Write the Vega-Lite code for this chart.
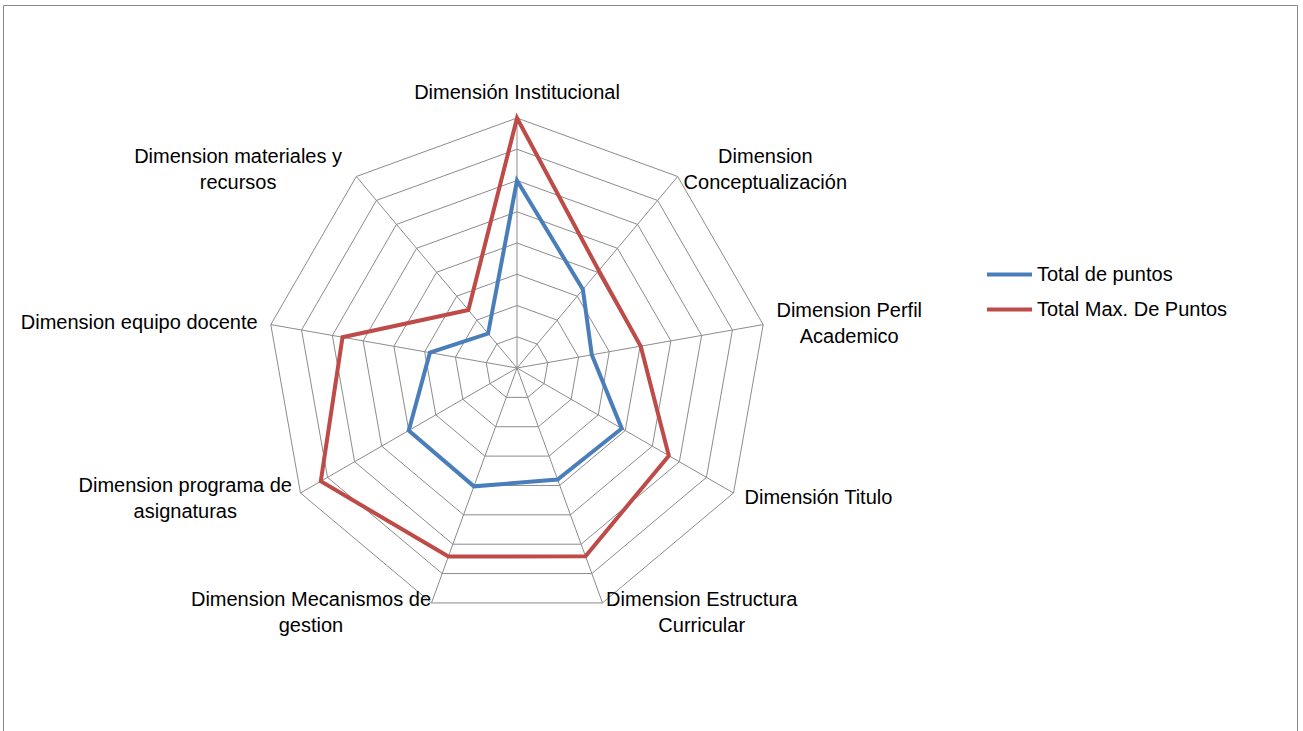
{
  "$schema": "https://vega.github.io/schema/vega-lite/v6.json",
  "width": 1294,
  "height": 726,
  "autosize": {"type": "none"},
  "padding": {"left": 3, "top": 5, "right": 6, "bottom": 0},
  "background": "#ffffff",
  "config": {
    "view": {"stroke": "#878787", "strokeWidth": 1},
    "font": "Liberation Sans"
  },
  "datasets": {
    "dims": [
      {"k": 0, "label": "Dimensión Institucional", "puntos": 6, "maximo": 8},
      {"k": 1, "label": "Dimension\nConceptualización", "puntos": 3.28, "maximo": 4.07},
      {"k": 2, "label": "Dimension Perfil\nAcademico", "puntos": 2.43, "maximo": 4.02},
      {"k": 3, "label": "Dimensión Titulo", "puntos": 3.87, "maximo": 5.61},
      {"k": 4, "label": "Dimension Estructura\nCurricular", "puntos": 3.8, "maximo": 6.41},
      {"k": 5, "label": "Dimension Mecanismos de\ngestion", "puntos": 4.03, "maximo": 6.42},
      {"k": 6, "label": "Dimension programa de\nasignaturas", "puntos": 4.0, "maximo": 7.25},
      {"k": 7, "label": "Dimension equipo docente", "puntos": 2.83, "maximo": 5.67},
      {"k": 8, "label": "Dimension materiales y\nrecursos", "puntos": 1.44, "maximo": 2.42}
    ],
    "rings": [
      {"level": 1, "k": [0, 1, 2, 3, 4, 5, 6, 7, 8]},
      {"level": 2, "k": [0, 1, 2, 3, 4, 5, 6, 7, 8]},
      {"level": 3, "k": [0, 1, 2, 3, 4, 5, 6, 7, 8]},
      {"level": 4, "k": [0, 1, 2, 3, 4, 5, 6, 7, 8]},
      {"level": 5, "k": [0, 1, 2, 3, 4, 5, 6, 7, 8]},
      {"level": 6, "k": [0, 1, 2, 3, 4, 5, 6, 7, 8]},
      {"level": 7, "k": [0, 1, 2, 3, 4, 5, 6, 7, 8]},
      {"level": 8, "k": [0, 1, 2, 3, 4, 5, 6, 7, 8]}
    ]
  },
  "layer": [
    {
      "data": {"name": "rings"},
      "transform": [
        {"flatten": ["k"]},
        {"calculate": "datum.level*sin(datum.k*2*PI/9)", "as": "x"},
        {"calculate": "datum.level*cos(datum.k*2*PI/9)", "as": "y"}
      ],
      "mark": {"type": "line", "interpolate": "linear-closed", "color": "#8c8c8c", "strokeWidth": 1},
      "encoding": {
        "x": {"field": "x", "type": "quantitative", "scale": {"domain": [-16.448, 24.96], "nice": false, "zero": false}, "axis": null},
        "y": {"field": "y", "type": "quantitative", "scale": {"domain": [-11.616, 11.616], "nice": false, "zero": false}, "axis": null},
        "detail": {"field": "level", "type": "nominal"},
        "order": {"field": "k", "type": "quantitative"}
      }
    },
    {
      "data": {"name": "dims"},
      "transform": [
        {"calculate": "0", "as": "o"},
        {"calculate": "8*sin(datum.k*2*PI/9)", "as": "sx"},
        {"calculate": "8*cos(datum.k*2*PI/9)", "as": "sy"}
      ],
      "mark": {"type": "rule", "color": "#8c8c8c", "strokeWidth": 1},
      "encoding": {
        "x": {"field": "o", "type": "quantitative", "scale": {"domain": [-16.448, 24.96], "nice": false, "zero": false}, "axis": null},
        "y": {"field": "o", "type": "quantitative", "scale": {"domain": [-11.616, 11.616], "nice": false, "zero": false}, "axis": null},
        "x2": {"field": "sx"},
        "y2": {"field": "sy"}
      }
    },
    {
      "data": {"name": "dims"},
      "transform": [
        {"fold": ["puntos", "maximo"], "as": ["serie", "v"]},
        {"calculate": "datum.v*sin(datum.k*2*PI/9)", "as": "x"},
        {"calculate": "datum.v*cos(datum.k*2*PI/9)", "as": "y"}
      ],
      "mark": {"type": "line", "interpolate": "linear-closed", "strokeWidth": 4},
      "encoding": {
        "x": {"field": "x", "type": "quantitative", "scale": {"domain": [-16.448, 24.96], "nice": false, "zero": false}, "axis": null},
        "y": {"field": "y", "type": "quantitative", "scale": {"domain": [-11.616, 11.616], "nice": false, "zero": false}, "axis": null},
        "order": {"field": "k", "type": "quantitative"},
        "color": {
          "field": "serie",
          "type": "nominal",
          "scale": {"domain": ["puntos", "maximo"], "range": ["#4A7EBB", "#BE4B48"]},
          "legend": {
            "orient": "none",
            "legendX": 982,
            "legendY": 245,
            "title": null,
            "symbolType": "stroke",
            "symbolSize": 2025,
            "symbolStrokeWidth": 4,
            "labelFont": "Liberation Sans",
            "labelFontSize": 20,
            "labelColor": "#000000",
            "labelOffset": 3,
            "labelLimit": 400,
            "rowPadding": -2,
            "padding": 0,
            "labelExpr": "datum.label == 'puntos' ? 'Total de puntos' : 'Total Max. De Puntos'"
          }
        }
      }
    },
    {
      "data": {"name": "dims"},
      "transform": [
        {"calculate": "datum.k == 0 ? 8.8 : 8.3", "as": "R"},
        {"calculate": "indexof(datum.label, '\\n')", "as": "nl"},
        {"calculate": "datum.nl < 0 ? length(datum.label) : max(datum.nl, length(datum.label) - datum.nl - 1)", "as": "n"},
        {"calculate": "sin(datum.k*2*PI/9)", "as": "s"},
        {"calculate": "datum.R*datum.s + (abs(datum.s) < 0.01 ? 0 : (datum.s > 0 ? 4.8 : -5.1)*datum.n/31.25)", "as": "lx"},
        {"calculate": "datum.R*cos(datum.k*2*PI/9) + (datum.nl < 0 ? 0 : 12/31.25)", "as": "ly"}
      ],
      "mark": {"type": "text", "align": "center", "baseline": "middle", "lineBreak": "\n", "font": "Liberation Sans", "fontSize": 20, "lineHeight": 26, "color": "#000000"},
      "encoding": {
        "x": {"field": "lx", "type": "quantitative", "scale": {"domain": [-16.448, 24.96], "nice": false, "zero": false}, "axis": null},
        "y": {"field": "ly", "type": "quantitative", "scale": {"domain": [-11.616, 11.616], "nice": false, "zero": false}, "axis": null},
        "text": {"field": "label", "type": "nominal"}
      }
    }
  ]
}
